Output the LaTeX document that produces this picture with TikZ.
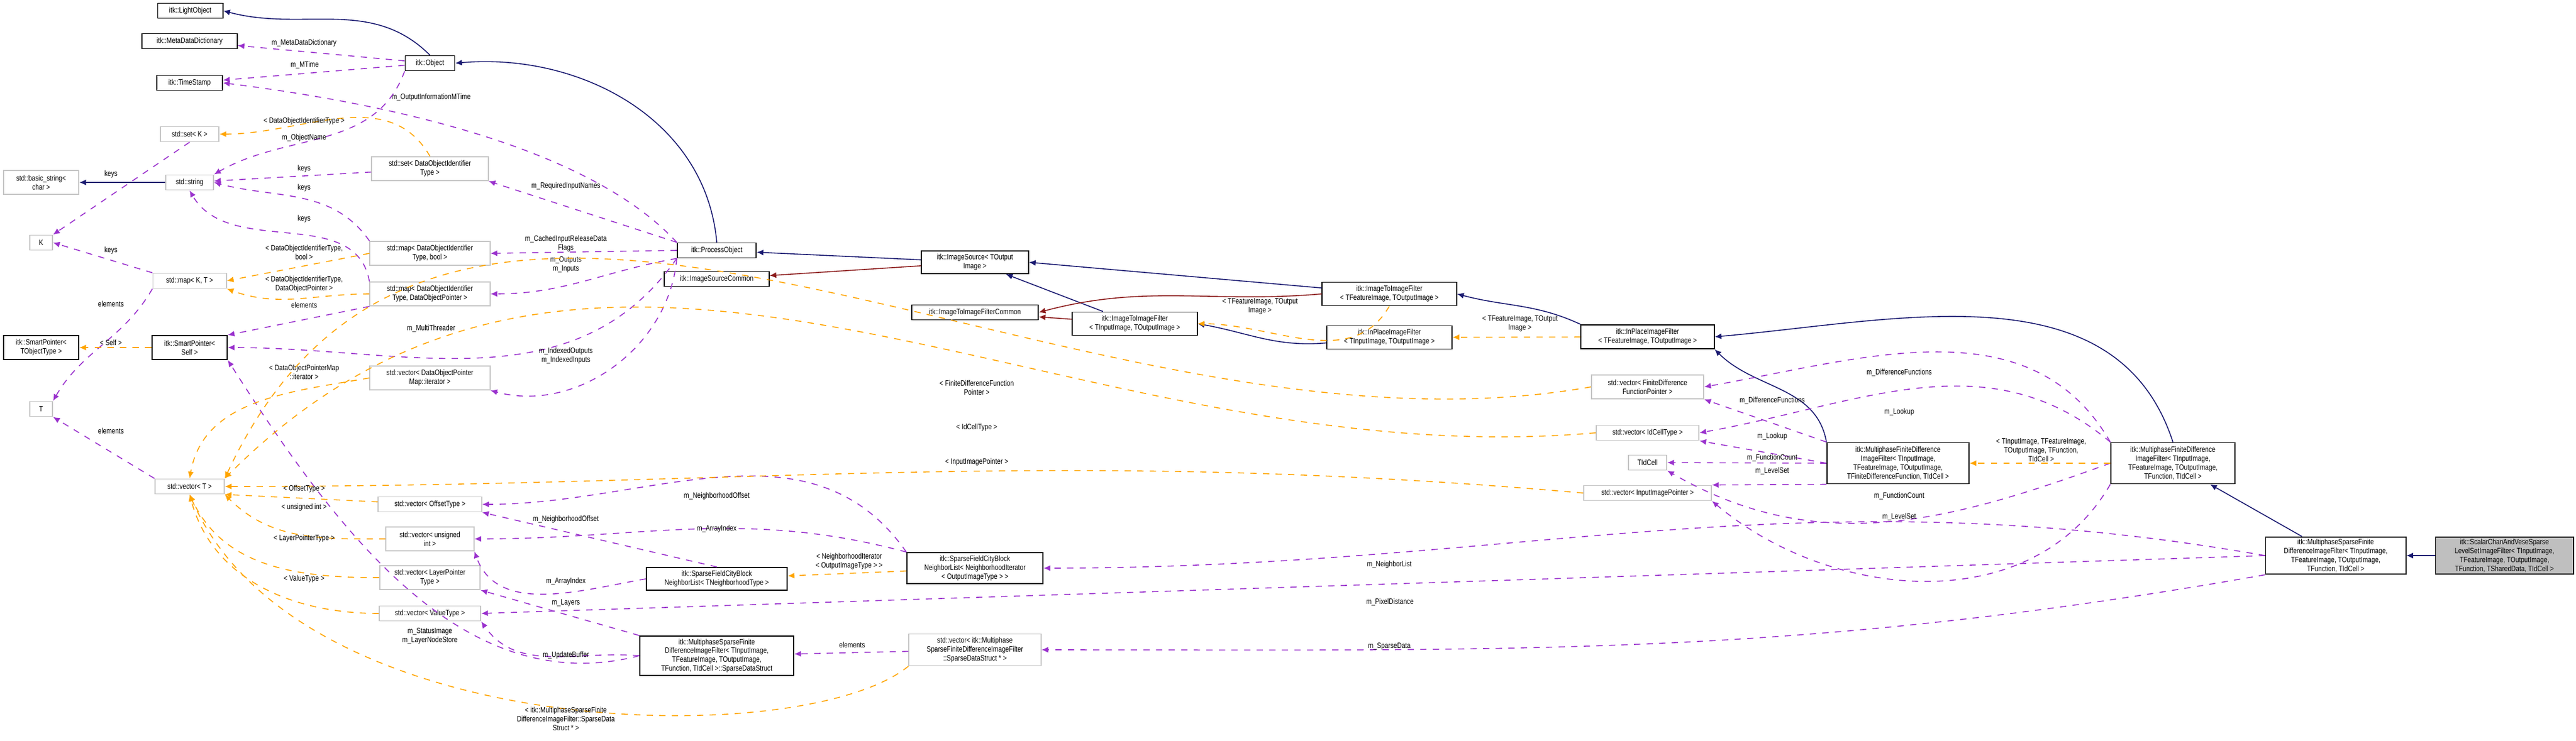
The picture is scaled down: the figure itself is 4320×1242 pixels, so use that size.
\documentclass[tikz,border=0pt]{standalone}
\usepackage{fontspec}
\setmainfont{Liberation Sans}[FakeStretch=0.82]
\usetikzlibrary{arrows.meta, positioning}

\definecolor{inhcol}{HTML}{191970}
\definecolor{usecol}{HTML}{9A32CD}
\definecolor{tplcol}{HTML}{FFA500}
\definecolor{protcol}{HTML}{8B1A1A}

\begin{document}
\begin{tikzpicture}[
        x=0.01cm, y=0.01cm,
        cls/.style={rectangle, draw=black, line width=0.55pt, fill=white, inner sep=1pt, align=center, font=\fontsize{3.7}{4.2}\selectfont, minimum height=0.25cm},
        ext/.style={cls, draw=gray!45},
        main/.style={cls, fill=gray!50},
        lbl/.style={font=\fontsize{3.7}{4.2}\selectfont, align=center, inner sep=0pt, text=black},
        inh/.style={-{Latex[length=3.2pt, width=2.8pt]}, inhcol, line width=0.45pt},
        prot/.style={inh, protcol},
        use/.style={-{Latex[length=3.2pt, width=2.8pt]}, usecol, dashed, line width=0.45pt},
        tpl/.style={use, tplcol}
    ]
    \useasboundingbox (0,0) rectangle (4320,-1242);

    % Left column
    \node[cls, minimum width=1.09cm] (light_obj) at (319,-18) {itk::LightObject};
    \node[cls, minimum width=1.59cm] (meta_dict) at (318,-69) {itk::MetaDataDictionary};
    \node[cls, minimum width=1.10cm] (time_stamp) at (318,-139) {itk::TimeStamp};
    \node[ext, minimum width=0.98cm] (set_k) at (318,-225) {std::set< K >};
    \node[ext, minimum width=1.26cm, minimum height=0.40cm] (basic_str) at (69,-306) {std::basic\_string<\\ char >};
    \node[ext, minimum width=0.80cm] (std_str) at (318,-306) {std::string};
    \node[ext, minimum width=0.38cm] (key_k) at (69,-407) {K};
    \node[ext, minimum width=1.23cm] (map_kt) at (318,-471) {std::map< K, T >};
    \node[cls, minimum width=1.26cm, minimum height=0.40cm] (sp_tobj) at (69,-583) {itk::SmartPointer<\\ TObjectType >};
    \node[cls, minimum width=1.26cm, minimum height=0.40cm] (sp_self) at (318,-583) {itk::SmartPointer<\\ Self >};
    \node[ext, minimum width=0.38cm] (elem_t) at (69,-686) {T};
    \node[ext, minimum width=1.16cm] (vec_t) at (318,-816) {std::vector< T >};

    % Second column
    \node[cls, minimum width=0.83cm] (itk_obj) at (721,-106) {itk::Object};
    \node[ext, minimum width=1.95cm, minimum height=0.40cm] (set_doit) at (721,-283) {std::set< DataObjectIdentifier\\ Type >};
    \node[ext, minimum width=2.01cm, minimum height=0.40cm] (map_bool) at (721,-425) {std::map< DataObjectIdentifier\\ Type, bool >};
    \node[ext, minimum width=2.01cm, minimum height=0.40cm] (map_dop) at (721,-493) {std::map< DataObjectIdentifier\\ Type, DataObjectPointer >};
    \node[ext, minimum width=2.01cm, minimum height=0.40cm] (vec_iter) at (721,-634) {std::vector< DataObjectPointer\\ Map::iterator >};
    \node[ext, minimum width=1.73cm] (vec_offset) at (721,-846) {std::vector< OffsetType >};
    \node[ext, minimum width=1.47cm, minimum height=0.40cm] (vec_uint) at (721,-904) {std::vector< unsigned\\ int >};
    \node[ext, minimum width=1.68cm, minimum height=0.40cm] (vec_layer) at (721,-969) {std::vector< LayerPointer\\ Type >};
    \node[ext, minimum width=1.70cm] (vec_value) at (721,-1029) {std::vector< ValueType >};

    % Third column
    \node[cls, minimum width=1.32cm] (proc_obj) at (1202,-420) {itk::ProcessObject};
    \node[cls, minimum width=1.75cm] (src_common) at (1202,-468) {itk::ImageSourceCommon};
    \node[cls, minimum width=2.36cm, minimum height=0.38cm] (nlist_tnt) at (1202,-971) {itk::SparseFieldCityBlock\\ NeighborList< TNeighborhoodType >};
    \node[cls, minimum width=2.58cm, minimum height=0.66cm] (sparse_struct) at (1202,-1100) {itk::MultiphaseSparseFinite\\ DifferenceImageFilter< TInputImage,\\ TFeatureImage, TOutputImage,\\ TFunction, TIdCell >::SparseDataStruct};

    % Fourth column
    \node[cls, minimum width=1.79cm, minimum height=0.38cm] (img_source) at (1635,-440) {itk::ImageSource< TOutput\\ Image >};
    \node[cls, minimum width=2.12cm] (filter_common) at (1635,-524) {itk::ImageToImageFilterCommon};
    \node[cls, minimum width=2.28cm, minimum height=0.52cm] (nlist_iter) at (1635,-953) {itk::SparseFieldCityBlock\\ NeighborList< NeighborhoodIterator\\ < OutputImageType > >};
    \node[ext, minimum width=2.21cm, minimum height=0.53cm] (vec_sparse) at (1635,-1090) {std::vector< itk::Multiphase\\ SparseFiniteDifferenceImageFilter\\ ::SparseDataStruct * >};

    % Fifth column
    \node[cls, minimum width=2.09cm, minimum height=0.39cm] (i2i_input) at (1903,-543) {itk::ImageToImageFilter\\ < TInputImage, TOutputImage >};
    \node[cls, minimum width=2.25cm, minimum height=0.39cm] (i2i_feature) at (2330,-493) {itk::ImageToImageFilter\\ < TFeatureImage, TOutputImage >};
    \node[cls, minimum width=2.10cm, minimum height=0.39cm] (inplace_input) at (2330,-566) {itk::InPlaceImageFilter\\ < TInputImage, TOutputImage >};

    % Sixth column
    \node[cls, minimum width=2.23cm, minimum height=0.40cm] (inplace_feature) at (2763,-565) {itk::InPlaceImageFilter\\ < TFeatureImage, TOutputImage >};
    \node[ext, minimum width=1.88cm, minimum height=0.40cm] (vec_func) at (2763,-649) {std::vector< FiniteDifference\\ FunctionPointer >};
    \node[ext, minimum width=1.72cm] (vec_idcell) at (2763,-726) {std::vector< IdCellType >};
    \node[ext, minimum width=0.64cm] (tid_cell) at (2763,-776) {TIdCell};
    \node[ext, minimum width=2.14cm] (vec_input) at (2763,-827) {std::vector< InputImagePointer >};

    % Right part
    \node[cls, minimum width=2.38cm, minimum height=0.69cm] (mfd_base) at (3183,-777) {itk::MultiphaseFiniteDifference\\ ImageFilter< TInputImage,\\ TFeatureImage, TOutputImage,\\ TFiniteDifferenceFunction, TIdCell >};
    \node[cls, minimum width=2.08cm, minimum height=0.69cm] (mfd_filter) at (3644,-777) {itk::MultiphaseFiniteDifference\\ ImageFilter< TInputImage,\\ TFeatureImage, TOutputImage,\\ TFunction, TIdCell >};
    \node[cls, minimum width=2.35cm, minimum height=0.46cm] (msfd_filter) at (3917,-932) {itk::MultiphaseSparseFinite\\ DifferenceImageFilter< TInputImage,\\ TFeatureImage, TOutputImage,\\ TFunction, TIdCell >};
    \node[main, minimum width=2.31cm, minimum height=0.46cm] (chan_vese) at (4200,-932) {itk::ScalarChanAndVeseSparse\\ LevelSetImageFilter< TInputImage,\\ TFeatureImage, TOutputImage,\\ TFunction, TSharedData, TIdCell >};

    % Inheritance
    \draw[inh] (itk_obj.north) to[out=135, in=-15] (light_obj.east);
    \draw[inh] (proc_obj.north) to[out=95, in=5] (itk_obj.east);
    \draw[inh] (std_str) -- (basic_str);
    \draw[inh] (img_source) -- (proc_obj);
    \draw[inh] (i2i_feature) -- (img_source.east);
    \draw[inh] (i2i_input) -- (img_source);
    \draw[inh] (inplace_input) to[out=185, in=-10] (i2i_input.east);
    \draw[inh] (inplace_feature.north west) to[out=155, in=-15] (i2i_feature.east);
    \draw[inh] (mfd_base.north west) to[out=100, in=-45] (inplace_feature.south east);
    \draw[inh] (mfd_filter.north) to[out=108, in=5] (inplace_feature.east);
    \draw[inh] (msfd_filter) -- (mfd_filter);
    \draw[inh] (chan_vese) -- (msfd_filter);
    \draw[prot] (img_source) -- (src_common);
    \draw[prot] (i2i_feature.west) to[out=185, in=15] (filter_common.east);
    \draw[prot] (i2i_input) -- (filter_common);

    % Usage
    \draw[use] (itk_obj) -- (meta_dict);
    \node[lbl] at (510,-72) {m\_MetaDataDictionary};
    \draw[use] (itk_obj) -- (time_stamp);
    \node[lbl] at (511,-109) {m\_MTime};
    \draw[use] (proc_obj.north west) .. controls (1000,-260) and (700,-180) .. (time_stamp.east);
    \node[lbl] at (723,-163) {m\_OutputInformationMTime};
    \draw[use] (itk_obj.south west) to[out=-110, in=30] (std_str.north east);
    \node[lbl] at (510,-231) {m\_ObjectName};
    \draw[use] (set_doit) -- (std_str);
    \node[lbl] at (510,-283) {keys};
    \draw[use] (map_bool.north west) to[out=125, in=-15] (std_str.east);
    \node[lbl] at (510,-315) {keys};
    \draw[use] (map_dop.north west) to[out=100, in=-60] (std_str.south);
    \node[lbl] at (510,-367) {keys};
    \draw[use] (set_k.south) -- (key_k.north east);
    \node[lbl] at (186,-292) {keys};
    \draw[use] (map_kt.north west) -- (key_k.east);
    \node[lbl] at (186,-420) {keys};
    \draw[use] (map_kt.south west) to[out=-120, in=60] (elem_t.north east);
    \node[lbl] at (186,-510) {elements};
    \draw[use] (vec_t.north west) -- (elem_t.south east);
    \node[lbl] at (186,-723) {elements};
    \draw[use] (proc_obj.north west) -- (set_doit.south east);
    \node[lbl] at (949,-312) {m\_RequiredInputNames};
    \draw[use] (proc_obj.west) -- (map_bool.east);
    \node[lbl] at (949,-409) {m\_CachedInputReleaseData\\ Flags};
    \draw[use] (proc_obj.south west) to[out=190, in=0] (map_dop.east);
    \node[lbl] at (949,-444) {m\_Outputs\\ m\_Inputs};
    \draw[use] (map_dop.south west) -- (sp_self.north east);
    \node[lbl] at (510,-512) {elements};
    \draw[use] (proc_obj.south west) to[out=-125, in=0] (sp_self.east);
    \node[lbl] at (723,-551) {m\_MultiThreader};
    \draw[use] (proc_obj.south west) to[out=-95, in=-15] (vec_iter.south east);
    \node[lbl] at (949,-597) {m\_IndexedOutputs\\ m\_IndexedInputs};
    \draw[use] (sparse_struct.west) .. controls (780,-1175) and (570,-900) .. (sp_self.south east);
    \node[lbl] at (721,-1067) {m\_StatusImage\\ m\_LayerNodeStore};
    \draw[use] (sparse_struct.west) to[out=175, in=-55] (vec_value.south east);
    \node[lbl] at (949,-1099) {m\_UpdateBuffer};
    \draw[use] (sparse_struct.north west) -- (vec_layer.south east);
    \node[lbl] at (949,-1011) {m\_Layers};
    \draw[use] (nlist_iter.north west) to[out=125, in=0] (vec_offset.east);
    \node[lbl] at (1202,-832) {m\_NeighborhoodOffset};
    \draw[use] (nlist_iter.north west) to[out=165, in=0] (vec_uint.east);
    \node[lbl] at (1202,-887) {m\_ArrayIndex};
    \draw[use] (nlist_tnt.north) -- (vec_offset.south east);
    \node[lbl] at (949,-871) {m\_NeighborhoodOffset};
    \draw[use] (nlist_tnt.west) to[out=190, in=-70] (vec_uint.south east);
    \node[lbl] at (949,-975) {m\_ArrayIndex};
    \draw[use] (msfd_filter.west) to[out=170, in=0] (nlist_iter.east);
    \node[lbl] at (2330,-947) {m\_NeighborList};
    \draw[use] (msfd_filter.west) -- (vec_value.east);
    \node[lbl] at (2331,-1010) {m\_PixelDistance};
    \draw[use] (msfd_filter.south west) to[out=190, in=0] (vec_sparse.east);
    \node[lbl] at (2330,-1084) {m\_SparseData};
    \draw[use] (vec_sparse) -- (sparse_struct);
    \node[lbl] at (1429,-1082) {elements};
    \draw[use] (mfd_filter.north west) to[out=120, in=10] (vec_func.east);
    \node[lbl] at (3185,-625) {m\_DifferenceFunctions};
    \draw[use] (mfd_base.north west) -- (vec_func.south east);
    \node[lbl] at (2972,-672) {m\_DifferenceFunctions};
    \draw[use] (mfd_filter.north west) to[out=140, in=10] (vec_idcell.east);
    \node[lbl] at (3185,-691) {m\_Lookup};
    \draw[use] (mfd_base.west) -- (vec_idcell.south east);
    \node[lbl] at (2972,-732) {m\_Lookup};
    \draw[use] (mfd_base.west) -- (tid_cell.east);
    \node[lbl] at (2972,-768) {m\_FunctionCount};
    \draw[use] (mfd_base.south west) -- (vec_input.north east);
    \node[lbl] at (2972,-790) {m\_LevelSet};
    \draw[use] (mfd_filter.west) to[out=200, in=-30] (tid_cell.south east);
    \node[lbl] at (3185,-832) {m\_FunctionCount};
    \draw[use] (mfd_filter.south west) to[out=-120, in=-40] (vec_input.south east);
    \node[lbl] at (3185,-867) {m\_LevelSet};

    % Template instances
    \draw[tpl] (set_doit.north) to[out=120, in=0] (set_k.east);
    \node[lbl] at (510,-203) {< DataObjectIdentifierType >};
    \draw[tpl] (map_bool.west) -- (map_kt.east);
    \node[lbl] at (510,-423) {< DataObjectIdentifierType,\\ bool >};
    \draw[tpl] (map_dop.west) to[out=180, in=-20] (map_kt.south east);
    \node[lbl] at (510,-477) {< DataObjectIdentifierType,\\ DataObjectPointer >};
    \draw[tpl] (sp_self) -- (sp_tobj);
    \node[lbl] at (186,-575) {< Self >};
    \draw[tpl] (vec_iter.west) to[out=190, in=80] (vec_t.north);
    \node[lbl] at (510,-624) {< DataObjectPointerMap\\ ::iterator >};
    \draw[tpl] (vec_func.west) to[out=190, in=65] (vec_t.north east);
    \node[lbl] at (1638,-650) {< FiniteDifferenceFunction\\ Pointer >};
    \draw[tpl] (vec_idcell.west) to[out=185, in=45] (vec_t.north east);
    \node[lbl] at (1638,-717) {< IdCellType >};
    \draw[tpl] (vec_input.west) to[out=175, in=0] (vec_t.east);
    \node[lbl] at (1638,-775) {< InputImagePointer >};
    \draw[tpl] (vec_offset) -- (vec_t.south east);
    \node[lbl] at (510,-820) {< OffsetType >};
    \draw[tpl] (vec_uint.west) to[out=180, in=-45] (vec_t.south east);
    \node[lbl] at (510,-851) {< unsigned int >};
    \draw[tpl] (vec_layer.west) to[out=180, in=-65] (vec_t.south);
    \node[lbl] at (510,-903) {< LayerPointerType >};
    \draw[tpl] (vec_value.west) to[out=180, in=-75] (vec_t.south);
    \node[lbl] at (510,-971) {< ValueType >};
    \draw[tpl] (vec_sparse.south west) .. controls (1350,-1260) and (500,-1250) .. (vec_t.south);
    \node[lbl] at (949,-1206) {< itk::MultiphaseSparseFinite\\ DifferenceImageFilter::SparseData\\ Struct * >};
    \draw[tpl] (i2i_feature.south) to[out=-120, in=0] (i2i_input.east);
    \node[lbl] at (2113,-514) {< TFeatureImage, TOutput\\ Image >};
    \draw[tpl] (inplace_feature) -- (inplace_input);
    \node[lbl] at (2549,-543) {< TFeatureImage, TOutput\\ Image >};
    \draw[tpl] (mfd_filter) -- (mfd_base);
    \node[lbl] at (3423,-755) {< TInputImage, TFeatureImage,\\ TOutputImage, TFunction,\\ TIdCell >};
    \draw[tpl] (nlist_iter) -- (nlist_tnt);
    \node[lbl] at (1424,-942) {< NeighborhoodIterator\\ < OutputImageType > >};
\end{tikzpicture}
\end{document}
